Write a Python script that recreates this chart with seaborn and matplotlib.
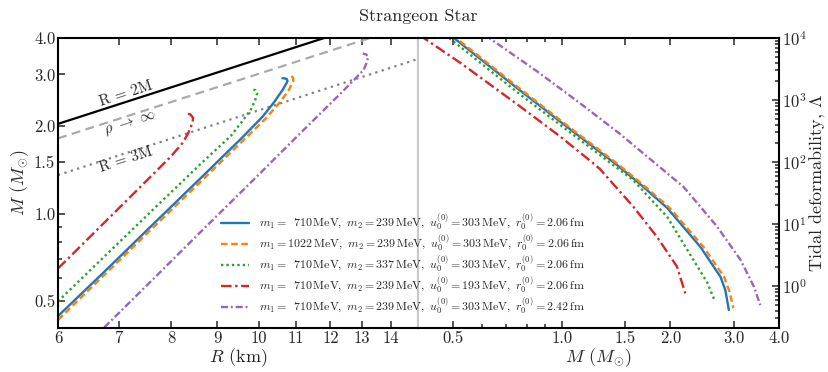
import numpy as np
import pandas as pd
import seaborn as sns
import matplotlib.pyplot as plt
from matplotlib.ticker import FixedLocator, FormatStrFormatter, LogLocator, NullLocator, NullFormatter

# model parameters shown in the legend
m1 = [710, 1022, 710, 710, 710]
m2 = [239, 239, 337, 239, 239]
u0 = [303, 303, 303, 193, 303]
r0 = [2.06, 2.06, 2.06, 2.06, 2.42]

# mass-radius curves (R in km, M in Msun)
R_blue = [6.00, 6.68, 7.59, 8.62, 9.55, 10.10, 10.41, 10.63, 10.74, 10.76, 10.74, 10.67, 10.62]
M_blue = [0.445, 0.612, 0.900, 1.320, 1.800, 2.150, 2.420, 2.660, 2.810, 2.850, 2.890, 2.910, 2.910]
R_orange = [6.00, 6.68, 7.59, 8.62, 9.55, 10.18, 10.58, 10.80, 10.91, 10.92, 10.91, 10.85]
M_orange = [0.432, 0.597, 0.877, 1.284, 1.748, 2.120, 2.430, 2.660, 2.830, 2.880, 2.920, 2.990]
R_green = [6.00, 6.68, 7.59, 8.62, 9.32, 9.62, 9.80, 9.91, 9.96, 9.92, 9.83]
M_green = [0.500, 0.690, 1.011, 1.477, 1.850, 2.100, 2.270, 2.450, 2.590, 2.650, 2.660]
R_red = [6.00, 6.68, 7.40, 7.99, 8.24, 8.36, 8.45, 8.46, 8.40, 8.33]
M_red = [0.648, 0.901, 1.235, 1.565, 1.748, 1.890, 2.050, 2.130, 2.190, 2.200]
R_purple = [6.75, 7.59, 8.62, 9.80, 11.13, 12.33, 12.81, 13.06, 13.17, 13.21, 13.15, 13.03]
M_purple = [0.407, 0.583, 0.863, 1.278, 1.893, 2.590, 2.920, 3.110, 3.310, 3.450, 3.510, 3.540]

# tidal deformability vs mass
Mt_blue = [0.490, 0.503, 0.764, 1.053, 1.423, 1.649, 1.961, 2.423, 2.755, 2.840, 2.905]
L_blue = [11300, 10000, 1449, 341, 89.5, 44.2, 18.1, 4.26, 1.40, 0.86, 0.41]
Mt_orange = [0.497, 0.510, 0.774, 1.066, 1.441, 1.670, 1.993, 2.471, 2.818, 2.918, 2.990]
L_orange = [11300, 10000, 1449, 341, 89.5, 44.2, 18.1, 4.26, 1.40, 0.80, 0.44]
Mt_green = [0.475, 0.488, 0.764, 1.276, 1.577, 1.961, 2.317, 2.534, 2.660]
L_green = [11300, 10000, 1250, 129.7, 51.2, 12.97, 2.63, 1.12, 0.56]
Mt_red = [0.405, 0.415, 0.531, 0.764, 0.987, 1.197, 1.276, 1.580, 1.835, 2.087, 2.200]
L_red = [11500, 10000, 3765, 800, 262, 105.7, 77.1, 19.0, 6.24, 2.05, 0.76]
Mt_purple = [0.615, 0.630, 0.852, 1.122, 1.451, 2.177, 2.697, 3.130, 3.410, 3.550]
L_purple = [11300, 10000, 2936, 895, 283, 39.5, 9.04, 2.63, 0.97, 0.49]

# reference lines R=2M, rho->inf, R=3M
R_lim = [6.0, 15.0]
M_2M = [2.03, 5.08]
M_inf = [1.81, 4.52]
M_3M = [1.355, 3.39]

colors = ['#1f77b4', '#ff7f0e', '#2ca02c', '#d62728', '#9467bd']
styles = ['-', (0, (2.8, 1.5)), (0, (1, 1.3)), (0, (4.5, 1.5, 1, 1.5)), (0, (3, 1.2, 0.8, 1.2))]

sns.set_style("ticks")
plt.rcParams['font.family'] = ['cmr10', 'DejaVu Serif']
plt.rcParams['mathtext.fontset'] = 'cm'
plt.rcParams['axes.formatter.use_mathtext'] = True
plt.rcParams['axes.unicode_minus'] = False

fig = plt.figure(figsize=(8.29, 3.72), dpi=100)
ax_l = fig.add_axes([0.070, 0.1183, 0.4343, 0.7796])
ax_r = fig.add_axes([0.5042, 0.1183, 0.4355, 0.7796])

# left panel
sns.lineplot(x=R_lim, y=M_2M, ax=ax_l, color='black', lw=1.6, sort=False, estimator=None)
sns.lineplot(x=R_lim, y=M_inf, ax=ax_l, color='#aaaaaa', lw=1.6, linestyle=(0, (4, 2.5)), sort=False, estimator=None)
sns.lineplot(x=R_lim, y=M_3M, ax=ax_l, color='gray', lw=1.6, linestyle=(0, (1, 2)), sort=False, estimator=None)

mr = [(R_blue, M_blue), (R_orange, M_orange), (R_green, M_green), (R_red, M_red), (R_purple, M_purple)]
lm = [(Mt_blue, L_blue), (Mt_orange, L_orange), (Mt_green, L_green), (Mt_red, L_red), (Mt_purple, L_purple)]
handles = []
for i in range(5):
    sns.lineplot(x=mr[i][0], y=mr[i][1], ax=ax_l, color=colors[i], lw=1.7, linestyle=styles[i],
                 sort=False, estimator=None)
    handles.append(ax_l.lines[-1])
    sns.lineplot(x=lm[i][0], y=lm[i][1], ax=ax_r, color=colors[i], lw=1.7, linestyle=styles[i],
                 sort=False, estimator=None)

ax_l.set_xscale('log')
ax_l.set_yscale('log')
ax_l.set_xlim(6, 15)
ax_l.set_ylim(0.405, 4.0)
ax_l.xaxis.set_major_locator(FixedLocator([6, 7, 8, 9, 10, 11, 12, 13, 14]))
ax_l.xaxis.set_major_formatter(FormatStrFormatter('%d'))
ax_l.xaxis.set_minor_locator(NullLocator())
ax_l.yaxis.set_major_locator(FixedLocator([0.5, 1.0, 1.5, 2.0, 3.0, 4.0]))
ax_l.yaxis.set_major_formatter(FormatStrFormatter('%.1f'))
ax_l.yaxis.set_minor_locator(LogLocator(subs=np.arange(2, 10)))
ax_l.yaxis.set_minor_formatter(NullFormatter())
ax_l.tick_params(which='both', direction='in', top=True, right=False, width=1.1, labelsize=12, pad=2)
ax_l.tick_params(which='major', length=5)
ax_l.tick_params(which='minor', length=3)
ax_l.set_xlabel(r'$R$ (km)', fontsize=13, labelpad=0)
ax_l.set_ylabel(r'$M$ $(M_{\odot})$', fontsize=13, labelpad=2)

ax_l.text(7.14, 2.57, 'R = 2M', rotation=18, ha='center', va='center', fontsize=11)
ax_l.text(7.22, 2.03, r'$\rho\ \rightarrow\ \infty$', rotation=18, ha='center', va='center', fontsize=11)
ax_l.text(7.14, 1.53, 'R = 3M', rotation=18, ha='center', va='center', fontsize=11)

# right panel
ax_r.set_xscale('log')
ax_r.set_yscale('log')
ax_r.set_xlim(0.4, 4.0)
ax_r.set_ylim(0.21, 1e4)
ax_r.xaxis.set_major_locator(FixedLocator([0.5, 1.0, 1.5, 2.0, 3.0, 4.0]))
ax_r.xaxis.set_major_formatter(FormatStrFormatter('%.1f'))
ax_r.xaxis.set_minor_locator(FixedLocator([0.6, 0.7, 0.8, 0.9]))
ax_r.xaxis.set_minor_formatter(NullFormatter())
ax_r.yaxis.set_major_locator(LogLocator(base=10))
ax_r.yaxis.set_minor_locator(LogLocator(base=10, subs=np.arange(2, 10)))
ax_r.yaxis.set_minor_formatter(NullFormatter())
ax_r.yaxis.tick_right()
ax_r.yaxis.set_label_position('right')
ax_r.tick_params(which='both', direction='in', top=True, left=False, right=True, width=1.1, labelsize=12, pad=2)
ax_r.tick_params(which='major', length=5)
ax_r.tick_params(which='minor', length=3)
ax_r.set_xlabel(r'$M$ $(M_{\odot})$', fontsize=13, labelpad=0)
ax_r.set_ylabel(r'Tidal deformability, $\Lambda$', fontsize=13, labelpad=0)

for ax in (ax_l, ax_r):
    for s in ax.spines.values():
        s.set_linewidth(1.5)
        s.set_color('black')
ax_l.spines['right'].set_color('#c8c8c8')
ax_r.spines['left'].set_color('#c8c8c8')

labels = []
for i in range(5):
    pad = r'\enspace ' if m1[i] < 1000 else ''
    labels.append(r'$m_1 = ' + pad + str(m1[i]) + r'\,\mathrm{MeV},\ m_2 = ' + str(m2[i])
                  + r'\,\mathrm{MeV},\ u_0^{(0)} = ' + str(u0[i]) + r'\,\mathrm{MeV},\ r_0^{(0)} = '
                  + f'{r0[i]:.2f}' + r'\,\mathrm{fm}$')

fig.legend(handles, labels, loc='upper left', bbox_to_anchor=(0.266, 0.432), frameon=False,
           fontsize=8.6, handlelength=2.4, handletextpad=0.8, labelspacing=-0.05,
           borderpad=0, borderaxespad=0)

fig.text(0.504, 0.955, 'Strangeon Star', ha='center', va='center', fontsize=13)

fig.savefig('out.png', dpi=100)
